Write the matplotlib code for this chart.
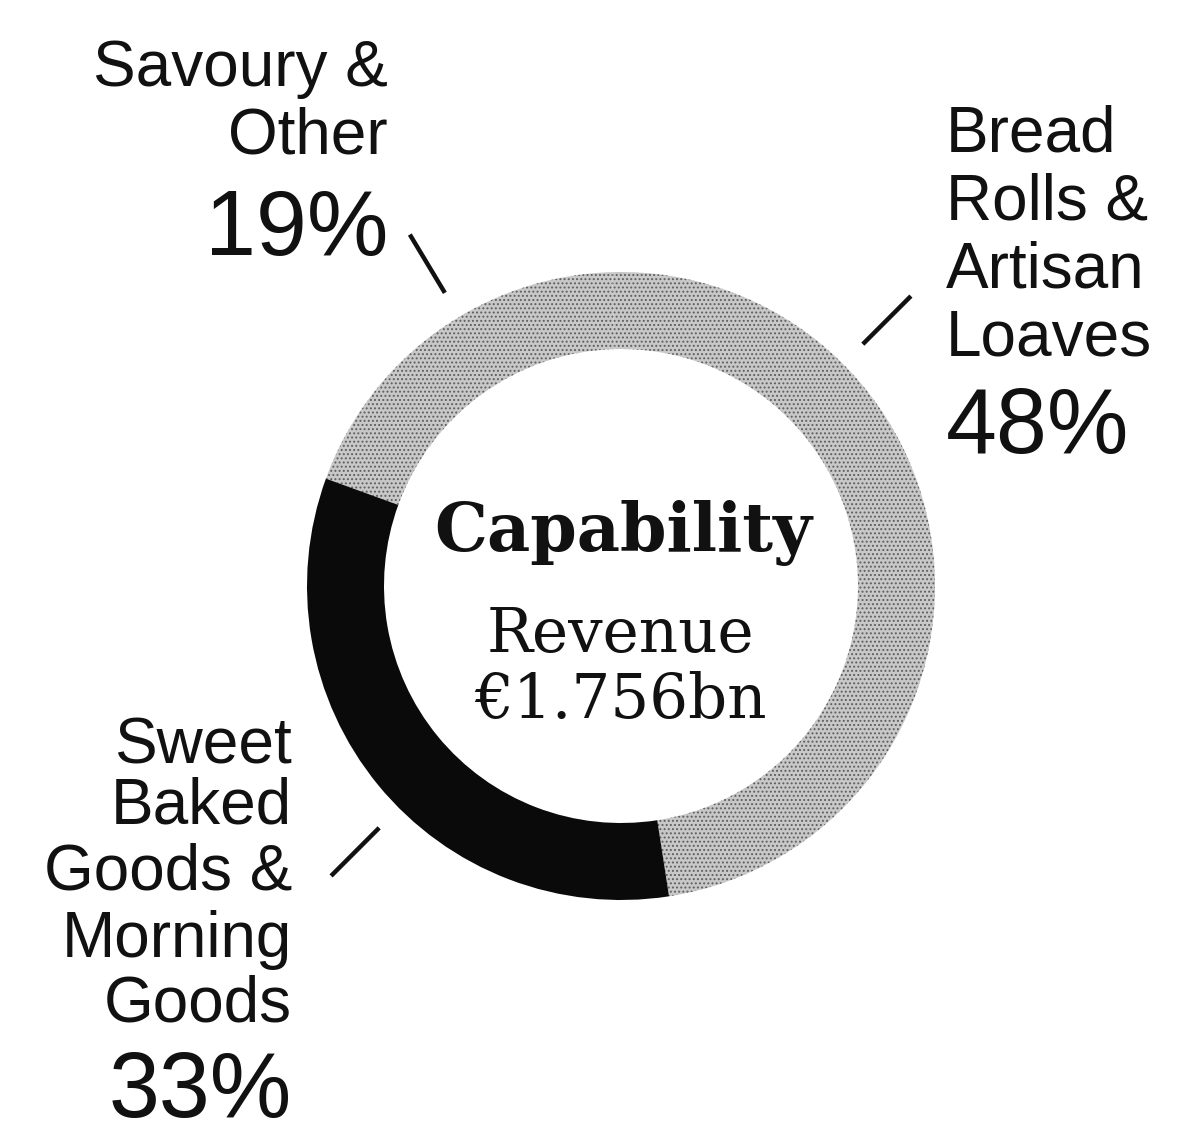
import numpy as np
import matplotlib
matplotlib.use("Agg")
import matplotlib.pyplot as plt

# ---- data ----
categories = ["Savoury & Other", "Bread Rolls & Artisan Loaves", "Sweet Baked Goods & Morning Goods"]
shares = [19, 48, 33]
label_lines = [["Savoury &", "Other"],
               ["Bread", "Rolls &", "Artisan", "Loaves"],
               ["Sweet", "Baked", "Goods &", "Morning", "Goods"]]
center_title = "Capability"
center_lines = ["Revenue", "€1.756bn"]

# ---- style / layout ----
W, H = 1198, 1123
colors = ["#c8c8c8", "#c8c8c8", "#0a0a0a"]
plt.rcParams["hatch.color"] = "#5e5e5e"
plt.rcParams["hatch.linewidth"] = 0.9

fig = plt.figure(figsize=(W / 100, H / 100), dpi=100)
ax = fig.add_axes([0, 0, 1, 1])

cx, cy = 621, H - 586
R = 314
ring_w = 77

wedges, _ = ax.pie(shares, colors=colors, startangle=160, counterclock=False,
                   radius=R, center=(cx, cy), frame=True,
                   wedgeprops=dict(width=ring_w, linewidth=0))
for w, c in zip(wedges, colors):
    if c != "#0a0a0a":
        w.set_hatch("....")

ax.set_xlim(0, W)
ax.set_ylim(0, H)
ax.set_aspect("equal")
ax.axis("off")

lab_font = ["Liberation Sans", "DejaVu Sans"]
lab_size = 46
pct_size = 66

# label layouts: (x, ha, line baselines from top, pct baseline from top)
layouts = [
    (388, "right", [86, 153], 255),
    (946, "left", [152, 219, 287, 355], 453),
    (292, "right", [763, 824, 890, 957, 1022], 1117),
]
for lines, v, (x, ha, ys, py) in zip(label_lines, shares, layouts):
    for t, y in zip(lines, ys):
        ax.text(x, H - y, t, ha=ha, va="baseline", fontsize=lab_size,
                family=lab_font, color="#111111")
    ax.text(x, H - py, f"{v}%", ha=ha, va="baseline", fontsize=pct_size,
            family=lab_font, color="#111111")

# leader lines (radial ticks)
leader_angles = [121, 45, 225]
r0, r1 = 342, 410
for a in leader_angles:
    t = np.deg2rad(a)
    ax.plot([cx + r0 * np.cos(t), cx + r1 * np.cos(t)],
            [cy + r0 * np.sin(t), cy + r1 * np.sin(t)],
            color="#111111", lw=3.2, solid_capstyle="butt")

# centre text
ax.text(623, H - 551, center_title, ha="center", va="baseline", fontsize=48,
        family="DejaVu Serif", fontweight="bold", color="#111111")
ax.text(620, H - 652, center_lines[0], ha="center", va="baseline", fontsize=44,
        family="DejaVu Serif", color="#111111")
ax.text(621, H - 718, center_lines[1], ha="center", va="baseline", fontsize=44,
        family="DejaVu Serif", color="#111111")

fig.savefig("out.png", dpi=100, facecolor="white")
